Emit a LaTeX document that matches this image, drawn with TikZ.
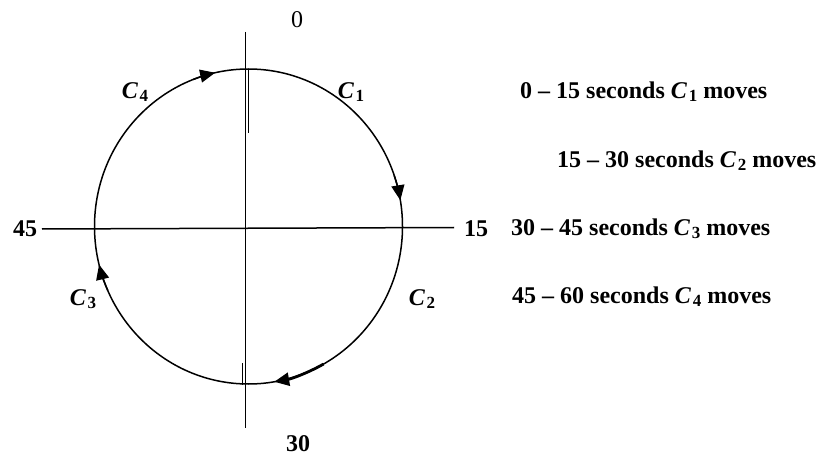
\documentclass[tikz,border=0pt]{standalone}
\usepackage{fontspec}
\setmainfont{Liberation Serif}
\usetikzlibrary{arrows.meta,calc}
\newcommand{\Csub}[1]{{\bfseries\itshape C}\kern0.08em\raisebox{-0.3ex}{\fontsize{17}{17}\selectfont\bfseries #1}}
\tikzset{
  axis/.style={line width=1.5pt, black},
  circ/.style={line width=1.5pt, black},
  tip/.style={-{Triangle[length=15pt,width=13pt]}, line width=1.5pt},
  lbl/.style={font=\fontsize{24}{27}\selectfont\bfseries, inner sep=0pt},
  num/.style={font=\fontsize{24}{27}\selectfont, inner sep=0pt},
}
\begin{document}
\begin{tikzpicture}[x=1pt,y=-1pt]
\useasboundingbox (0,0) rectangle (819,457);
\coordinate (O) at (248.5,226.5);
% axes
\coordinate (vt) at (245.5,32);
\coordinate (vb) at (245.5,428);
\coordinate (hl) at (42,229);
\coordinate (hr) at (454,227.5);
\draw[axis] (vt) -- (vb);
\draw[axis] (hl) -- (hr);
% short double segments
\coordinate (dt1) at (248.5,69);
\coordinate (dt2) at (248.5,133);
\coordinate (db1) at (242.5,363);
\coordinate (db2) at (242.5,385);
\draw[axis] (dt1) -- (dt2);
\draw[axis] (db1) -- (db2);
% circle
\draw[circ] (O) ellipse [x radius=154, y radius=157.5];
% arrows
\draw[tip] ($(O)+(249:154 and 157.5)$) arc[start angle=249, end angle=257.5, x radius=154, y radius=157.5];
\draw[tip] ($(O)+(-19:154 and 157.5)$) arc[start angle=-19, end angle=-9.6, x radius=154, y radius=157.5];
\draw[tip, line width=2.8pt] ($(O)+(60.8:154 and 157.5)$) arc[start angle=60.8, end angle=80.4, x radius=154, y radius=157.5];
\draw[tip] ($(O)+(156:154 and 157.5)$) arc[start angle=156, end angle=166, x radius=154, y radius=157.5];
% labels
\node[num] (n0) at (297,20) {0};
\node[lbl] (n15) at (476,229) {15};
\node[lbl] (n30) at (298,444) {30};
\node[lbl] (n45) at (25,229) {45};
\node[lbl] (c1) at (351,92) {\Csub{1}};
\node[lbl] (c2) at (422,299) {\Csub{2}};
\node[lbl] (c3) at (83,299) {\Csub{3}};
\node[lbl] (c4) at (135,92) {\Csub{4}};
% legend
\node[lbl, anchor=west] (t1) at (520,92) {0 -- 15 seconds \Csub{1} moves};
\node[lbl, anchor=west] (t2) at (557,161) {15 -- 30 seconds \Csub{2} moves};
\node[lbl, anchor=west] (t3) at (511,229) {30 -- 45 seconds \Csub{3} moves};
\node[lbl, anchor=west] (t4) at (512,297) {45 -- 60 seconds \Csub{4} moves};
\end{tikzpicture}
\end{document}
